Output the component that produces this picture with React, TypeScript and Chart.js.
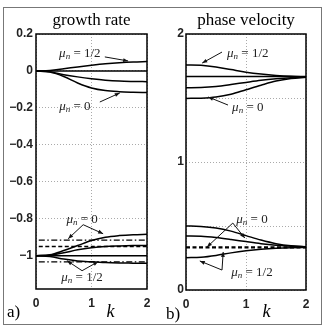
import React, { useEffect, useRef } from 'react';
import { Chart, registerables } from 'chart.js';

Chart.register(...registerables);

// ---------- data ----------
const kValues = [0, 0.25, 0.5, 0.75, 1, 1.25, 1.5, 1.75, 2];
const refK = [0.05, 2];
const refKFull = [0, 2];

// growth rate, upper branch (near 0)
const growthUpperHalf = [0, 0.003, 0.012, 0.022, 0.031, 0.039, 0.045, 0.049, 0.051];
const growthUpperMid = [0, 0, 0, 0, 0, 0, 0, 0, 0];
const growthUpperLow = [0, -0.005, -0.02, -0.032, -0.042, -0.05, -0.055, -0.057, -0.058];
const growthUpperZero = [0, -0.006, -0.03, -0.065, -0.092, -0.106, -0.112, -0.115, -0.117];
// growth rate, lower branch (near -1)
const growthLowerZero = [-1, -0.995, -0.972, -0.945, -0.918, -0.9, -0.891, -0.886, -0.884];
const growthLowerMid = [-1, -0.997, -0.984, -0.968, -0.957, -0.95, -0.947, -0.945, -0.944];
const growthLowerFlat = [-1, -1, -1, -1, -1, -1, -1, -1, -1];
const growthLowerHalf = [-1, -1.004, -1.018, -1.028, -1.033, -1.037, -1.039, -1.04, -1.041];
const growthRefDashDotTop = [-0.915, -0.915];
const growthRefDashed = [-0.95, -0.95];
const growthRefDashDotBottom = [-1.033, -1.033];

// phase velocity, upper branch
const phaseUpperHalf = [1.758, 1.755, 1.742, 1.722, 1.702, 1.687, 1.676, 1.669, 1.666];
const phaseUpperMid = [1.667, 1.667, 1.667, 1.667, 1.667, 1.667, 1.667, 1.667, 1.667];
const phaseUpperLow = [1.58, 1.582, 1.59, 1.605, 1.622, 1.638, 1.65, 1.659, 1.664];
const phaseUpperZero = [1.497, 1.499, 1.508, 1.53, 1.565, 1.6, 1.632, 1.652, 1.662];
// phase velocity, lower branch
const phaseLowerZero = [0.5, 0.497, 0.485, 0.46, 0.425, 0.39, 0.362, 0.345, 0.338];
const phaseLowerMid = [0.422, 0.42, 0.41, 0.395, 0.378, 0.362, 0.35, 0.342, 0.338];
const phaseLowerHalf = [0.252, 0.256, 0.27, 0.29, 0.306, 0.318, 0.326, 0.331, 0.333];
const phaseRefDashed = [0.333, 0.333];

// ticks
const xTicks = [0, 1, 2];
const growthYTicks = [0.2, 0, -0.2, -0.4, -0.6, -0.8, -1];
const phaseYTicks = [0, 0.5, 1, 1.5, 2];
const phaseYLabelled = [0, 1, 2];

// annotations: label position and arrows (data units)
const growthAnnotations = [
  { value: '1/2', at: [0.79, 0.097], arrows: [[[1.24, 0.076], [1.66, 0.054]]] },
  { value: '0', at: [0.7, -0.189], arrows: [[[1.15, -0.168], [1.51, -0.119]]] },
  { value: '0', at: [0.83, -0.8], arrows: [[[0.85, -0.832], [0.58, -0.908]], [[0.85, -0.832], [1.21, -0.881]]] },
  { value: '1/2', at: [0.83, -1.114], arrows: [[[0.83, -1.081], [0.56, -1.027]], [[0.83, -1.081], [1.12, -1.032]]] },
];
const phaseAnnotations = [
  { value: '1/2', at: [1.03, 1.852], arrows: [[[0.6, 1.859], [0.27, 1.773]]] },
  { value: '0', at: [1.03, 1.43], arrows: [[[0.7, 1.445], [0.37, 1.508]]] },
  { value: '0', at: [1.1, 0.555], arrows: [[[0.78, 0.523], [0.35, 0.336]], [[0.78, 0.523], [0.98, 0.406]]] },
  { value: '1/2', at: [1.1, 0.141], arrows: [[[0.6, 0.156], [0.23, 0.227]], [[0.6, 0.156], [0.62, 0.297]]] },
];

// ---------- helpers ----------
const SERIF = '"Liberation Serif", "Times New Roman", serif';
const SANS = '"Liberation Sans", Arial, sans-serif';

function series(xs: number[], ys: number[], style: any = {}) {
  return {
    data: xs.map((x, i) => ({ x, y: ys[i] })),
    borderColor: '#000',
    borderWidth: 1.5,
    pointRadius: 0,
    fill: false,
    cubicInterpolationMode: 'monotone',
    ...style,
  };
}

function drawMu(ctx: CanvasRenderingContext2D, cx: number, cy: number, value: string) {
  const f1 = `italic 13px ${SERIF}`;
  const f2 = `italic 9px ${SERIF}`;
  const f3 = `13px ${SERIF}`;
  const rest = ' = ' + value;
  ctx.font = f1; const w1 = ctx.measureText('\u03bc').width;
  ctx.font = f2; const w2 = ctx.measureText('n').width;
  ctx.font = f3; const w3 = ctx.measureText(rest).width;
  let x = cx - (w1 + w2 + w3) / 2;
  const base = cy + 4;
  ctx.textAlign = 'left';
  ctx.textBaseline = 'alphabetic';
  ctx.fillStyle = '#222';
  ctx.font = f1; ctx.fillText('\u03bc', x, base); x += w1;
  ctx.font = f2; ctx.fillText('n', x, base + 2); x += w2;
  ctx.font = f3; ctx.fillText(rest, x, base);
}

function drawArrow(ctx: CanvasRenderingContext2D, x1: number, y1: number, x2: number, y2: number) {
  ctx.strokeStyle = '#111';
  ctx.fillStyle = '#111';
  ctx.lineWidth = 1;
  ctx.beginPath();
  ctx.moveTo(x1, y1);
  ctx.lineTo(x2, y2);
  ctx.stroke();
  const ang = Math.atan2(y2 - y1, x2 - x1);
  const L = 5, W = 2;
  ctx.beginPath();
  ctx.moveTo(x2, y2);
  ctx.lineTo(x2 - L * Math.cos(ang) + W * Math.sin(ang), y2 - L * Math.sin(ang) - W * Math.cos(ang));
  ctx.lineTo(x2 - L * Math.cos(ang) - W * Math.sin(ang), y2 - L * Math.sin(ang) + W * Math.cos(ang));
  ctx.closePath();
  ctx.fill();
}

const overlayPlugin = {
  id: 'overlay',
  afterDraw(chart: any, _args: any, opts: any) {
    const { ctx, chartArea: a, scales } = chart;
    const sx = scales.x, sy = scales.y;
    ctx.save();
    // box
    ctx.strokeStyle = '#000';
    ctx.lineWidth = 1.5;
    ctx.strokeRect(a.left, a.top, a.right - a.left, a.bottom - a.top);
    // title
    ctx.fillStyle = '#000';
    ctx.font = `17px ${SERIF}`;
    ctx.textAlign = 'center';
    ctx.textBaseline = 'alphabetic';
    ctx.fillText(opts.title, (a.left + a.right) / 2, a.top - 9);
    // panel letter
    ctx.textAlign = 'left';
    ctx.font = `17px ${SERIF}`;
    ctx.fillText(opts.panel, opts.panelX, opts.panelY);
    // k label
    ctx.font = `italic 18px ${SERIF}`;
    ctx.textAlign = 'center';
    ctx.fillText('k', sx.getPixelForValue(1.34), 317);
    // annotations
    for (const ann of opts.annotations) {
      for (const [p1, p2] of ann.arrows) {
        drawArrow(ctx, sx.getPixelForValue(p1[0]), sy.getPixelForValue(p1[1]),
          sx.getPixelForValue(p2[0]), sy.getPixelForValue(p2[1]));
      }
      drawMu(ctx, sx.getPixelForValue(ann.at[0]), sy.getPixelForValue(ann.at[1]), ann.value);
    }
    ctx.restore();
  },
};

function fmt(v: number) {
  const s = String(Math.round(v * 100) / 100);
  return s.replace('-', '\u2212');
}

function makeConfig(p: any) {
  const tickFont = { family: SANS, size: 12, weight: 'bold' };
  return {
    type: 'line',
    data: { datasets: p.datasets },
    plugins: [overlayPlugin],
    options: {
      animation: false,
      responsive: false,
      devicePixelRatio: 1,
      layout: { padding: p.padding },
      plugins: {
        legend: { display: false },
        tooltip: { enabled: false },
        title: { display: false },
        overlay: {
          title: p.title,
          panel: p.panel,
          panelX: p.panelX,
          panelY: p.panelY,
          annotations: p.annotations,
        },
      },
      scales: {
        x: {
          type: 'linear',
          min: 0,
          max: 2,
          afterBuildTicks: (s: any) => { s.ticks = xTicks.map((v) => ({ value: v })); },
          afterFit: (s: any) => { s.height = p.xHeight; },
          ticks: { color: '#222', font: tickFont, padding: 7, maxRotation: 0, callback: (v: number) => fmt(v) },
          grid: { color: '#aaa', lineWidth: 1, drawTicks: false },
          border: { display: false, dash: [1, 2] },
        },
        y: {
          type: 'linear',
          min: p.yMin,
          max: p.yMax,
          afterBuildTicks: (s: any) => { s.ticks = p.yTicks.map((v: number) => ({ value: v })); },
          afterFit: (s: any) => { s.width = p.yWidth; },
          ticks: {
            color: '#222',
            font: tickFont,
            padding: p.yPad,
            callback: (v: number) => (p.yLabelled.includes(v) ? fmt(v) : ''),
          },
          grid: { color: '#aaa', lineWidth: 1, drawTicks: false },
          border: { display: false, dash: [1, 2] },
        },
      },
    },
  };
}

const dashDot = { borderDash: [6, 2.5, 1.5, 2.5], borderWidth: 1.3, cubicInterpolationMode: 'default' };
const dashed = { borderDash: [4, 2.5], borderWidth: 1.5, cubicInterpolationMode: 'default' };

const panels = [
  {
    left: 0,
    width: 160,
    padding: { top: 34, right: 13, bottom: 0, left: 0 },
    yWidth: 36,
    xHeight: 39,
    yPad: 3,
    yMin: -1.18,
    yMax: 0.2,
    yTicks: growthYTicks,
    yLabelled: growthYTicks,
    title: 'growth rate',
    panel: 'a)',
    panelX: 7,
    panelY: 317,
    annotations: growthAnnotations,
    datasets: [
      series(refK, growthRefDashDotTop, dashDot),
      series(refK, growthRefDashed, dashed),
      series(refK, growthRefDashDotBottom, dashDot),
      series(kValues, growthUpperHalf),
      series(kValues, growthUpperMid),
      series(kValues, growthUpperLow),
      series(kValues, growthUpperZero),
      series(kValues, growthLowerZero),
      series(kValues, growthLowerMid),
      series(kValues, growthLowerFlat),
      series(kValues, growthLowerHalf),
    ],
  },
  {
    left: 160,
    width: 165,
    padding: { top: 34, right: 19, bottom: 0, left: 0 },
    yWidth: 26,
    xHeight: 38,
    yPad: 2,
    yMin: 0,
    yMax: 2,
    yTicks: phaseYTicks,
    yLabelled: phaseYLabelled,
    title: 'phase velocity',
    panel: 'b)',
    panelX: 6,
    panelY: 319,
    annotations: phaseAnnotations,
    datasets: [
      series(kValues, phaseUpperHalf),
      series(kValues, phaseUpperMid),
      series(kValues, phaseUpperLow),
      series(kValues, phaseUpperZero),
      series(kValues, phaseLowerZero),
      series(kValues, phaseLowerMid),
      series(kValues, phaseLowerHalf),
      series(refKFull, phaseRefDashed, { borderDash: [4, 2.5], borderWidth: 2.2, cubicInterpolationMode: 'default' }),
    ],
  },
];

function Panel({ p }: { p: any }) {
  const ref = useRef<HTMLCanvasElement>(null);
  useEffect(() => {
    const chart = new Chart(ref.current as HTMLCanvasElement, makeConfig(p) as any);
    return () => chart.destroy();
  }, []);
  return (
    <canvas
      ref={ref}
      width={p.width}
      height={328}
      style={{ position: 'absolute', left: p.left, top: 0, width: p.width, height: 328 }}
    />
  );
}

export default function App() {
  return (
    <div style={{ position: 'fixed', left: 0, top: 0, width: 325, height: 328, background: '#fff', overflow: 'hidden' }}>
      <div
        style={{
          position: 'absolute',
          left: 3,
          top: 7,
          width: 317,
          height: 316,
          border: '1.5px solid #777',
        }}
      />
      {panels.map((p, i) => (
        <Panel key={i} p={p} />
      ))}
    </div>
  );
}
